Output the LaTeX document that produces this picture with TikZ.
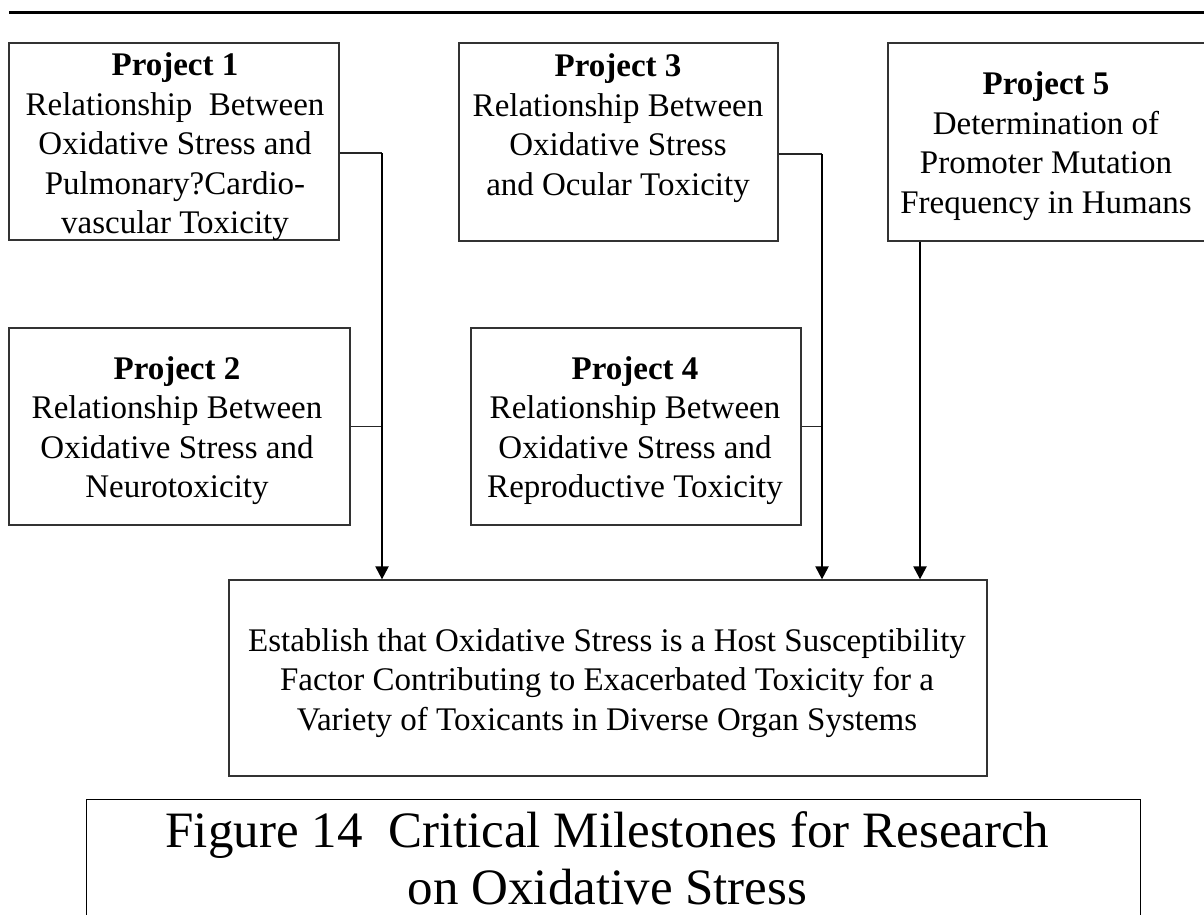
\documentclass[tikz,border=0pt]{standalone}
\usepackage{fontspec}
\setmainfont{Liberation Serif}
\usetikzlibrary{arrows.meta}
% centred stack of lines whose baseline is that of the first line
\newcommand{\boxlines}[1]{\begin{tabular}[t]{@{}c@{}}#1\end{tabular}}
\begin{document}
\begin{tikzpicture}[x=1pt,y=-1pt,
  frame/.style={draw=black!80, line width=1.3pt, inner sep=0pt},
  body/.style={inner sep=0pt, anchor=base, font=\fontsize{33}{39.5}\selectfont},
  captext/.style={inner sep=0pt, anchor=base, font=\fontsize{51}{57}\selectfont},
  branch/.style={draw=black!85, line width=1.3pt},
  trunk/.style={draw=black, line width=2.3pt, -{Triangle[width=13pt,length=13pt]}},
]
\useasboundingbox (0,0) rectangle (1204,915);
\fill[white] (0,0) rectangle (1204,915);
\clip (0,0) rectangle (1204,915);

% rule across the top of the page
\draw[line width=3pt] (9,13) -- (1204,13);

% project frames
\node[frame, minimum width=330pt, minimum height=197pt] (p1) at (174,141.5) {};
\node[frame, minimum width=319pt, minimum height=198pt] (p3) at (618.5,142) {};
\node[frame, minimum width=317pt, minimum height=198pt] (p5) at (1046.5,142) {};
\node[frame, minimum width=341pt, minimum height=197pt] (p2) at (179.5,426.5) {};
\node[frame, minimum width=330pt, minimum height=197pt] (p4) at (636,426.5) {};

% goal frame and caption frame
\node[frame, minimum width=758pt, minimum height=196pt] (goal) at (608,678) {};
\node[frame, draw=black, minimum width=1054pt, minimum height=240pt, anchor=north west] (cap) at (86,799) {};

% project texts
\node[body] (p1t) at (175,76) {\boxlines{\textbf{Project 1}\\Relationship\ \ Between\\Oxidative Stress and\\Pulmonary?Cardio-\\vascular Toxicity}};
\node[body] (p3t) at (618,77) {\boxlines{\textbf{Project 3}\\Relationship Between\\Oxidative Stress\\and Ocular Toxicity}};
\node[body] (p5t) at (1046,95) {\boxlines{\textbf{Project 5}\\Determination of\\Promoter Mutation\\Frequency in Humans}};
\node[body] (p2t) at (177,379) {\boxlines{\textbf{Project 2}\\Relationship Between\\Oxidative Stress and\\Neurotoxicity}};
\node[body] (p4t) at (635,379) {\boxlines{\textbf{Project 4}\\Relationship Between\\Oxidative Stress and\\Reproductive Toxicity}};

% goal text
\node[body] (goalt) at (607,651) {\boxlines{Establish that Oxidative Stress is a Host Susceptibility\\Factor Contributing to Exacerbated Toxicity for a\\Variety of Toxicants in Diverse Organ Systems}};

% caption text
\node[captext] (capt) at (607.5,847) {\boxlines{Figure 14\ \ Critical Milestones for Research\\on Oxidative Stress}};

% connectors
\coordinate (j1) at (382,153);
\coordinate (j3) at (822,154);
\coordinate (s5) at (920,0);

\draw[branch] (p1.east |- j1) -- (j1);
\draw[branch] (p2.east) -- (p2.east -| j1);
\draw[trunk] (j1) -- (j1 |- goal.north);

\draw[branch] (p3.east |- j3) -- (j3);
\draw[branch] (p4.east) -- (p4.east -| j3);
\draw[trunk] (j3) -- (j3 |- goal.north);

\draw[trunk] (s5 |- p5.south) -- (s5 |- goal.north);
\end{tikzpicture}
\end{document}
